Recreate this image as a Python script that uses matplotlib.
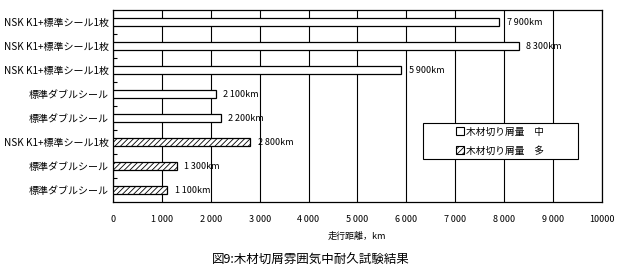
import matplotlib
matplotlib.use('Agg')
import matplotlib.pyplot as plt
import matplotlib.patches as mpatches

plt.rcParams['font.family'] = ['Noto Sans CJK JP', 'DejaVu Sans']
plt.rcParams['hatch.linewidth'] = 0.6

# データ
labels = ['NSK K1+標準シール1枚', 'NSK K1+標準シール1枚', 'NSK K1+標準シール1枚',
          '標準ダブルシール', '標準ダブルシール',
          'NSK K1+標準シール1枚', '標準ダブルシール', '標準ダブルシール']
distance = [7900, 8300, 5900, 2100, 2200, 2800, 1300, 1100]
chip = ['中', '中', '中', '中', '中', '多', '多', '多']   # 木材切り屑量
xticks = [0, 1000, 2000, 3000, 4000, 5000, 6000, 7000, 8000, 9000, 10000]
xticklabels = ['0', '1\u2009000', '2\u2009000', '3\u2009000', '4\u2009000', '5\u2009000',
               '6\u2009000', '7\u2009000', '8\u2009000', '9\u2009000', '10000']

fig = plt.figure(figsize=(6.21, 2.73), dpi=100)
ax = fig.add_axes([0.182, 0.260, 0.787, 0.703])

ypos = list(range(len(labels)))
for y, d, c in zip(ypos, distance, chip):
    hatch = '//////' if c == '多' else None
    ax.barh(y, d, height=0.34, color='white', edgecolor='black', linewidth=0.9,
            hatch=hatch, zorder=3)
    txt = '{:,}'.format(d).replace(',', '\u2009') + 'km'
    ax.text(d + 160, y, txt, va='center', ha='left', fontsize=6.5, zorder=4)

ax.set_xlim(0, 10000)
ax.set_ylim(len(labels) - 0.5, -0.5)
ax.set_xticks(xticks)
ax.set_xticklabels(xticklabels, fontsize=6.5)
ax.set_yticks(ypos)
ax.set_yticklabels(labels, fontsize=7.2)
ax.set_yticks([i + 0.5 for i in range(len(labels) - 1)], minor=True)
ax.tick_params(axis='y', which='major', length=0, pad=3)
ax.tick_params(axis='y', which='minor', direction='in', length=3, width=0.8)
ax.tick_params(axis='x', length=0, pad=9)
ax.grid(axis='x', color='black', linewidth=0.8, zorder=1)
for s in ax.spines.values():
    s.set_linewidth(0.9)

ax.set_xlabel('走行距離，km', fontsize=6.5, labelpad=6)

# 凡例
box = mpatches.Rectangle((0.634, 0.224), 0.317, 0.187, transform=ax.transAxes,
                         facecolor='white', edgecolor='black', linewidth=0.8, zorder=5)
ax.add_patch(box)
h1 = mpatches.Patch(facecolor='white', edgecolor='black', linewidth=0.8, label='木材切り屑量　中')
h2 = mpatches.Patch(facecolor='white', edgecolor='black', linewidth=0.8, hatch='//////',
                    label='木材切り屑量　多')
leg = ax.legend(handles=[h1, h2], loc='center', bbox_to_anchor=(0.7925, 0.3175),
                frameon=False, fontsize=7, handlelength=0.8, handleheight=0.9,
                handletextpad=0.2, labelspacing=0.9, borderpad=0)
leg.set_zorder(6)

fig.text(0.5, 0.045, '図9:木材切屑雰囲気中耐久試験結果', ha='center', va='center', fontsize=9)

fig.savefig('out.png', dpi=100)
